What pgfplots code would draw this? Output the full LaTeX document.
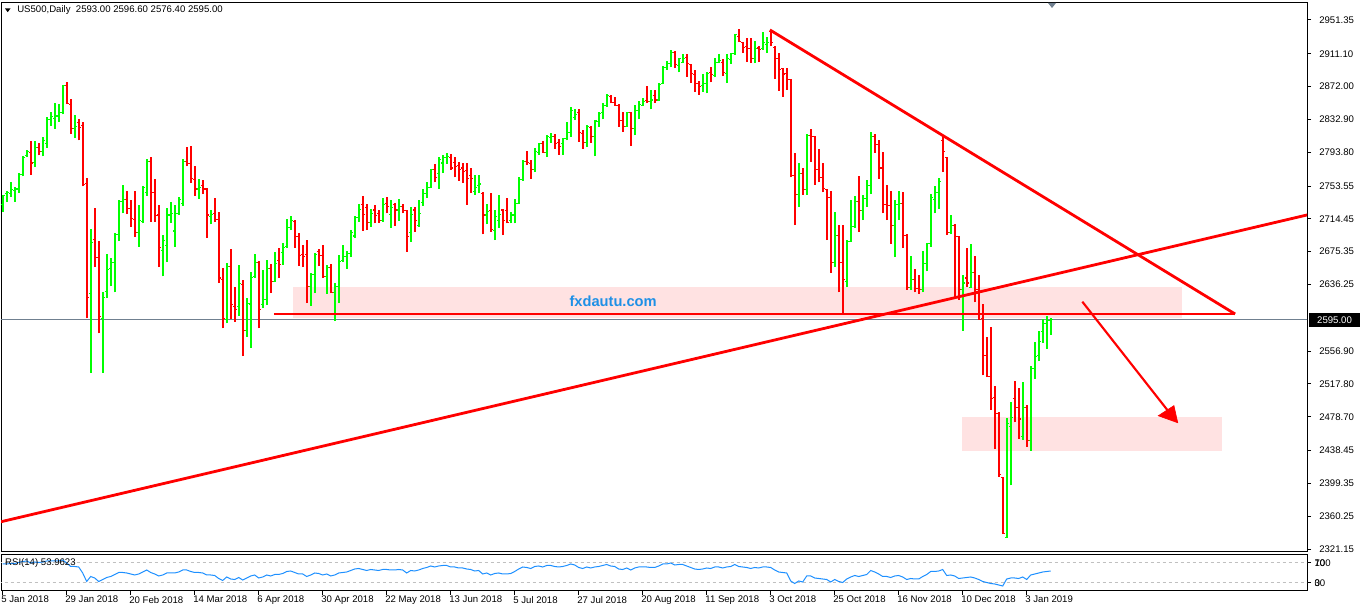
\documentclass[border=0pt]{standalone}
\usepackage{fontspec}
\setmainfont{Liberation Sans}
\usepackage{pgfplots}
\usepackage{pgfplotstable}
\pgfplotsset{compat=1.18}
\definecolor{upc}{RGB}{0,255,0}
\definecolor{dnc}{RGB}{255,0,0}
\definecolor{pinkc}{RGB}{255,226,226}
\definecolor{slate}{RGB}{112,128,144}
\definecolor{rsic}{RGB}{30,144,255}
\definecolor{wmblue}{RGB}{30,144,230}
\definecolor{silverc}{RGB}{192,192,192}
\newcommand\lab{\fontsize{7.2}{8.6}\selectfont}
\pgfplotstableread{
i o h l c r
0 2732 2743 2723 2742 68
1 2745 2748 2735 2746 68
2 2745 2758 2741 2749 69
3 2748 2752 2735 2750 69
4 2750 2769 2745 2767 71
5 2767 2789 2765 2788 73
6 2790 2797 2788 2795 74
7 2794 2807 2767 2781 70
8 2782 2807 2776 2800 72
9 2800 2805 2790 2795 71
10 2795 2812 2789 2808 72
11 2804 2836 2799 2833 74
12 2833 2842 2825 2836 74
13 2834 2853 2822 2837 74
14 2837 2851 2830 2841 74
15 2841 2874 2839 2873 76
16 2873 2878 2851 2852 70
17 2851 2857 2816 2822 63
18 2822 2838 2811 2825 63
19 2829 2833 2808 2823 62
20 2826 2830 2753 2755 50
21 2757 2763 2596 2621 33
22 2626 2702 2531 2686 43
23 2690 2727 2657 2668 40
24 2668 2688 2578 2598 33
25 2596 2627 2531 2621 37
26 2628 2673 2620 2654 41
27 2655 2668 2634 2663 43
28 2663 2698 2627 2696 47
29 2696 2737 2688 2735 51
30 2735 2755 2721 2737 51
31 2737 2748 2720 2727 50
32 2727 2737 2705 2715 48
33 2714 2748 2693 2698 46
34 2698 2731 2681 2712 48
35 2711 2754 2709 2752 52
36 2746 2786 2742 2783 56
37 2783 2788 2711 2746 51
38 2746 2762 2711 2718 48
39 2719 2731 2657 2680 44
40 2677 2695 2646 2689 46
41 2683 2727 2663 2719 50
42 2719 2735 2710 2721 50
43 2700 2731 2681 2721 50
44 2721 2741 2719 2737 52
45 2733 2786 2730 2783 56
46 2783 2800 2777 2780 56
47 2780 2801 2757 2763 53
48 2761 2778 2742 2750 51
49 2750 2762 2738 2752 51
50 2754 2761 2744 2750 50
51 2750 2751 2692 2719 46
52 2717 2725 2708 2720 46
53 2721 2739 2711 2714 45
54 2714 2723 2638 2644 39
55 2642 2656 2584 2596 35
56 2595 2662 2590 2658 42
57 2658 2679 2595 2612 38
58 2610 2633 2592 2607 37
59 2610 2660 2599 2637 41
60 2636 2642 2551 2582 36
61 2582 2620 2574 2614 40
62 2613 2651 2561 2645 44
63 2646 2673 2644 2662 46
64 2662 2664 2584 2606 40
65 2612 2654 2608 2618 42
66 2618 2666 2612 2655 46
67 2655 2661 2626 2640 44
68 2640 2675 2639 2661 47
69 2665 2680 2644 2660 47
70 2674 2686 2660 2680 49
71 2681 2714 2680 2704 53
72 2704 2718 2701 2712 54
73 2711 2713 2680 2693 51
74 2693 2698 2658 2671 48
75 2672 2683 2657 2670 48
76 2672 2689 2614 2634 43
77 2634 2650 2611 2648 46
78 2648 2674 2626 2672 50
79 2676 2678 2658 2671 49
80 2671 2683 2644 2646 46
81 2646 2660 2625 2657 48
82 2657 2661 2626 2627 44
83 2627 2638 2593 2634 46
84 2634 2671 2614 2664 50
85 2665 2683 2663 2670 51
86 2670 2676 2655 2673 52
87 2673 2701 2669 2698 55
88 2694 2718 2692 2716 58
89 2716 2732 2711 2726 59
90 2732 2742 2700 2720 57
91 2728 2732 2701 2710 55
92 2710 2726 2705 2721 57
93 2725 2731 2709 2718 56
94 2721 2725 2710 2712 55
95 2713 2739 2711 2731 57
96 2733 2741 2721 2729 57
97 2720 2737 2704 2728 56
98 2731 2733 2706 2725 56
99 2725 2738 2712 2729 57
100 2729 2732 2721 2724 56
101 2724 2725 2675 2693 50
102 2698 2729 2687 2720 55
103 2725 2729 2699 2713 54
104 2707 2737 2705 2721 56
105 2734 2750 2730 2745 59
106 2745 2758 2739 2752 61
107 2752 2774 2751 2773 64
108 2773 2780 2758 2764 62
109 2768 2788 2750 2785 64
110 2781 2791 2769 2787 65
111 2787 2793 2780 2789 65
112 2788 2792 2773 2775 62
113 2782 2788 2764 2777 62
114 2778 2782 2760 2773 60
115 2775 2781 2757 2771 60
116 2772 2781 2731 2762 58
117 2766 2775 2745 2763 57
118 2747 2767 2743 2752 54
119 2754 2767 2745 2756 55
120 2745 2747 2696 2719 48
121 2719 2732 2708 2723 50
122 2724 2745 2699 2702 46
123 2701 2725 2689 2717 49
124 2713 2743 2704 2720 50
125 2725 2726 2695 2712 48
126 2724 2739 2709 2710 48
127 2712 2723 2709 2719 49
128 2719 2738 2709 2733 53
129 2733 2764 2732 2761 58
130 2761 2785 2760 2783 62
131 2783 2795 2779 2782 61
132 2780 2785 2762 2773 59
133 2773 2799 2770 2795 63
134 2793 2805 2791 2804 64
135 2804 2807 2793 2794 62
136 2794 2814 2788 2812 65
137 2811 2817 2805 2813 65
138 2812 2816 2798 2804 63
139 2805 2810 2791 2801 62
140 2804 2811 2791 2810 63
141 2810 2830 2808 2817 65
142 2817 2848 2812 2843 68
143 2835 2845 2832 2839 66
144 2841 2845 2806 2817 61
145 2816 2820 2798 2805 59
146 2805 2826 2800 2825 62
147 2823 2825 2805 2813 60
148 2812 2832 2789 2831 62
149 2830 2842 2824 2840 63
150 2841 2853 2833 2849 65
151 2849 2863 2848 2861 67
152 2860 2862 2852 2853 64
153 2853 2860 2849 2850 63
154 2850 2851 2824 2832 58
155 2832 2842 2818 2825 57
156 2825 2842 2824 2841 60
157 2841 2842 2801 2822 56
158 2822 2850 2814 2843 60
159 2843 2855 2833 2851 62
160 2850 2858 2849 2854 62
161 2855 2873 2853 2854 62
162 2854 2868 2845 2856 61
163 2861 2868 2853 2856 61
164 2856 2876 2855 2875 64
165 2876 2897 2875 2895 68
166 2895 2903 2892 2899 68
167 2899 2916 2895 2913 70
168 2913 2914 2894 2898 66
169 2897 2906 2889 2905 67
170 2901 2911 2900 2906 67
171 2907 2911 2884 2899 64
172 2898 2899 2876 2888 61
173 2886 2892 2866 2876 58
174 2876 2879 2862 2872 57
175 2873 2887 2866 2876 58
176 2876 2889 2864 2888 60
177 2889 2895 2877 2886 59
178 2885 2906 2883 2901 62
179 2901 2911 2900 2903 62
180 2901 2905 2885 2889 60
181 2888 2911 2876 2905 62
182 2904 2912 2899 2911 63
183 2911 2935 2910 2934 67
184 2932 2941 2925 2926 63
185 2924 2925 2912 2919 62
186 2920 2930 2901 2917 61
187 2917 2930 2900 2906 59
188 2906 2926 2900 2917 61
189 2918 2920 2901 2916 60
190 2917 2937 2916 2924 62
191 2922 2931 2912 2924 62
192 2938 2940 2920 2924 61
193 2919 2920 2881 2905 56
194 2905 2912 2867 2892 52
195 2893 2894 2860 2887 51
196 2888 2894 2868 2881 50
197 2880 2881 2764 2766 34
198 2766 2793 2707 2744 29
199 2744 2781 2729 2769 34
200 2769 2775 2743 2749 32
201 2749 2816 2743 2814 44
202 2814 2822 2782 2812 44
203 2812 2813 2755 2773 40
204 2773 2798 2758 2764 39
205 2764 2781 2746 2751 38
206 2749 2750 2689 2740 37
207 2740 2748 2650 2663 32
208 2663 2723 2657 2695 37
209 2695 2707 2627 2663 33
210 2663 2707 2602 2642 31
211 2640 2689 2633 2688 38
212 2688 2737 2687 2705 42
213 2705 2742 2704 2735 45
214 2735 2766 2699 2724 43
215 2724 2743 2713 2739 45
216 2739 2761 2729 2754 47
217 2754 2818 2744 2813 55
218 2813 2816 2793 2803 52
219 2803 2808 2762 2775 48
220 2775 2794 2721 2731 43
221 2731 2755 2713 2730 43
222 2730 2748 2685 2707 41
223 2707 2737 2669 2731 44
224 2731 2748 2713 2733 45
225 2733 2746 2680 2695 42
226 2695 2696 2630 2633 37
227 2633 2670 2630 2642 39
228 2642 2655 2627 2632 38
229 2632 2648 2625 2630 38
230 2630 2676 2627 2661 43
231 2661 2686 2652 2685 47
232 2685 2744 2681 2740 53
233 2738 2754 2721 2746 53
234 2746 2763 2726 2759 54
235 2808 2814 2770 2795 57
236 2787 2788 2695 2698 45
237 2698 2719 2696 2707 46
238 2707 2708 2619 2693 44
239 2693 2694 2618 2630 39
240 2630 2648 2581 2638 40
241 2644 2680 2633 2638 41
242 2633 2684 2632 2650 42
243 2650 2670 2615 2630 40
244 2630 2648 2594 2595 37
245 2596 2613 2528 2552 33
246 2552 2574 2526 2527 31
247 2527 2586 2487 2501 29
248 2502 2515 2440 2483 28
249 2483 2484 2407 2410 26
250 2406 2407 2339 2340 24
251 2335 2477 2334 2471 38
252 2467 2496 2397 2478 40
253 2501 2521 2472 2490 40
254 2490 2513 2452 2476 39
255 2455 2520 2451 2490 42
256 2490 2493 2443 2450 37
257 2450 2539 2438 2536 46
258 2536 2568 2524 2551 48
259 2552 2581 2545 2568 50
260 2580 2595 2567 2590 52
261 2590 2599 2560 2593 53
262 2593 2596.6 2576.4 2595 54
}\ohlc
\begin{document}
\begin{tikzpicture}
\path[use as bounding box] (0,0) rectangle (1021.5pt,456.75pt);
% ---------------- main price panel ----------------
\begin{axis}[
  at={(0.75pt,42.75pt)}, anchor=south west,
  width=979.5pt, height=411.75pt, scale only axis,
  xmin=-0.425, xmax=326.075, ymin=2317.6, ymax=2971.6,
  xtick=\empty,
  ytick={2321.15,2360.25,2399.35,2438.45,2478.70,2517.80,2556.90,2636.25,2675.35,2714.45,2753.55,2793.80,2832.90,2872.00,2911.10,2951.35},
  yticklabels={2321.15,2360.25,2399.35,2438.45,2478.70,2517.80,2556.90,2636.25,2675.35,2714.45,2753.55,2793.80,2832.90,2872.00,2911.10,2951.35},
  ytick pos=right, yticklabel pos=right, tick align=outside,
  major tick length=3pt,
  every tick/.style={black, line width=0.75pt},
  yticklabel style={anchor=west, font=\lab, inner sep=0pt, xshift=6pt},
  axis line style={black, line width=0.75pt},
  clip=true,
]
% pink zones
\addplot[draw=none, fill=pinkc, forget plot] coordinates {(72.6,2596.4) (294.8,2596.4) (294.8,2633.3) (72.6,2633.3)} -- cycle;
\addplot[draw=none, fill=pinkc, forget plot] coordinates {(239.8,2437.9) (304.8,2437.9) (304.8,2478.6) (239.8,2478.6)} -- cycle;
% current price line
\addplot[slate, line width=0.9pt, forget plot] coordinates {(-1,2595) (327,2595)};
% bars: high-low
\addplot[upc, line width=1.25pt, forget plot, quiver={u=0, v=\thisrow{h}-\thisrow{l}},
  restrict expr to domain={\thisrow{c}-\thisrow{o}}{0:10000}] table[x=i, y=l] {\ohlc};
\addplot[dnc, line width=1.25pt, forget plot, quiver={u=0, v=\thisrow{h}-\thisrow{l}},
  restrict expr to domain={\thisrow{c}-\thisrow{o}}{-10000:-0.001}] table[x=i, y=l] {\ohlc};
% open ticks
\addplot[upc, line width=0.8pt, forget plot, quiver={u=-0.55, v=0},
  restrict expr to domain={\thisrow{c}-\thisrow{o}}{0:10000}] table[x=i, y=o] {\ohlc};
\addplot[dnc, line width=0.8pt, forget plot, quiver={u=-0.55, v=0},
  restrict expr to domain={\thisrow{c}-\thisrow{o}}{-10000:-0.001}] table[x=i, y=o] {\ohlc};
% close ticks
\addplot[upc, line width=0.8pt, forget plot, quiver={u=0.55, v=0},
  restrict expr to domain={\thisrow{c}-\thisrow{o}}{0:10000}] table[x=i, y=c] {\ohlc};
\addplot[dnc, line width=0.8pt, forget plot, quiver={u=0.55, v=0},
  restrict expr to domain={\thisrow{c}-\thisrow{o}}{-10000:-0.001}] table[x=i, y=c] {\ohlc};
% trend lines
\addplot[dnc, line width=2.1pt, forget plot] coordinates {(-1,2353.0) (327,2720.1)};
\addplot[dnc, line width=2.1pt, forget plot] coordinates {(191.8,2939.5) (308.1,2601.1)};
\addplot[dnc, line width=2.1pt, forget plot] coordinates {(67.8,2601.1) (308.1,2601.1)};
% arrow
\addplot[dnc, line width=1.6pt, forget plot] coordinates {(269.9,2615.8) (292.6,2478.0)};
\addplot[draw=dnc, fill=dnc, line width=0.5pt, forget plot] coordinates {(288.9,2479.9) (292.8,2491.9) (293.75,2471.6)} -- cycle;
\node[text=wmblue, font=\bfseries\fontsize{11}{13}\selectfont] at (axis cs:152.6,2616.6) {fxdautu.com};
\end{axis}
% ---------------- RSI panel ----------------
\begin{axis}[
  at={(0.75pt,13.5pt)}, anchor=south west,
  width=979.5pt, height=27pt, scale only axis,
  xmin=-0.425, xmax=326.075, ymin=14, ymax=86,
  xtick={0,16,...,256},
  xticklabels={5 Jan 2018,29 Jan 2018,20 Feb 2018,14 Mar 2018,6 Apr 2018,30 Apr 2018,22 May 2018,13 Jun 2018,5 Jul 2018,27 Jul 2018,20 Aug 2018,11 Sep 2018,3 Oct 2018,25 Oct 2018,16 Nov 2018,10 Dec 2018,3 Jan 2019},
  xtick pos=bottom,
  xticklabel style={anchor=north west, font=\lab, inner sep=0pt, xshift=-1.2pt, yshift=-0.6pt},
  ytick={30,70}, yticklabels={30,70},
  extra y ticks={30,70}, extra y tick labels={0,100},
  ytick pos=right, yticklabel pos=right, tick align=outside,
  major tick length=3pt,
  every tick/.style={black, line width=0.75pt},
  yticklabel style={anchor=west, font=\lab, inner sep=0pt, xshift=2.5pt},
  axis line style={black, line width=0.75pt},
  clip=true,
]
\addplot[silverc, line width=0.75pt, dash pattern=on 2.25pt off 2.25pt, forget plot] coordinates {(-1,70) (327,70)};
\addplot[silverc, line width=0.75pt, dash pattern=on 2.25pt off 2.25pt, forget plot] coordinates {(-1,30) (327,30)};
\addplot[rsic, line width=0.75pt, forget plot] table[x=i, y=r] {\ohlc};
\node[anchor=west, font=\lab, inner sep=0pt] at (rel axis cs:0.003,0.78) {RSI(14) 53.9623};
\end{axis}
% ---------------- decorations outside axes ----------------
\fill[black] (3.75pt,450.4pt) -- (7.9pt,450.4pt) -- (5.8pt,447.6pt) -- cycle;
\node[anchor=west, font=\lab, inner sep=0pt] at (12.75pt,449.25pt) {US500,Daily\ \ 2593.00 2596.60 2576.40 2595.00};
\fill[slate] (786pt,454.5pt) -- (792pt,454.5pt) -- (789pt,450.75pt) -- cycle;
\fill[black] (981.75pt,211.5pt) rectangle (1020pt,222pt);
\node[font=\lab, text=white, inner sep=0pt] at (1000.9pt,216.75pt) {2595.00};
\end{tikzpicture}
\end{document}
